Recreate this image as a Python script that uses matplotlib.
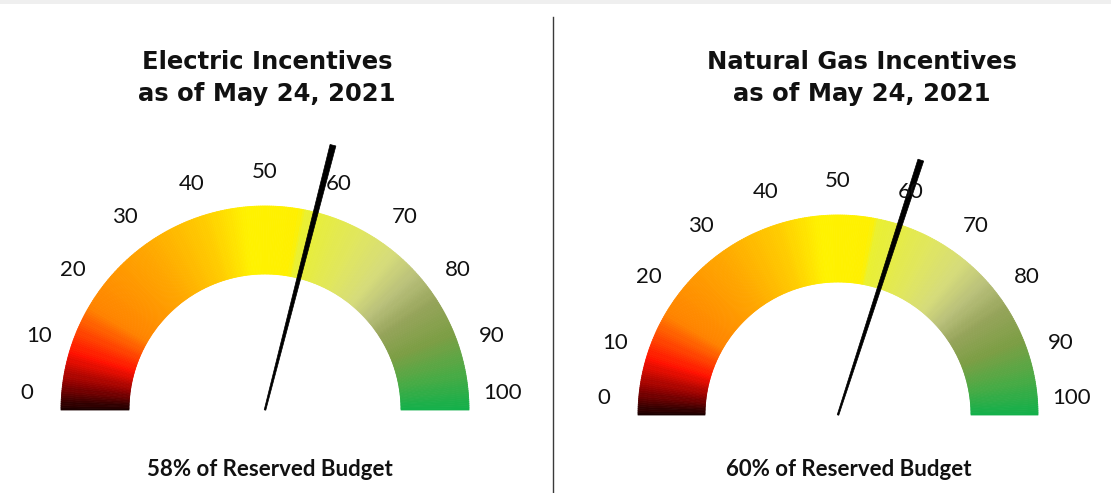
import numpy as np
import matplotlib
matplotlib.use("Agg")
import matplotlib.pyplot as plt
from matplotlib.colors import LinearSegmentedColormap
from matplotlib.collections import PolyCollection
from matplotlib.patches import Polygon, Rectangle

# data
titles = ["Electric Incentives\nas of May 24, 2021",
          "Natural Gas Incentives\nas of May 24, 2021"]
percent = [58, 60]
captions = ["58% of Reserved Budget", "60% of Reserved Budget"]
tick_values = [0, 10, 20, 30, 40, 50, 60, 70, 80, 90, 100]

# gradient stops along the dial (0..1)
stop_pos = [0.0, 0.04, 0.09, 0.17, 0.30, 0.40, 0.47, 0.555, 0.565, 0.66,
            0.72, 0.77, 0.82, 0.88, 0.94, 1.0]
stop_col = ["#1a0000", "#8a0000", "#ff1000", "#ff8400", "#ffa800",
            "#ffcc00", "#fff200", "#fff000", "#eaf030", "#e0e660",
            "#d6dc7a", "#b9c07a", "#96a45a", "#7c9e44", "#4caa44", "#14b04a"]
cmap = LinearSegmentedColormap.from_list("gauge", list(zip(stop_pos, stop_col)))

# layout in pixels: (cx, cy, r_out, r_in, label radius, title x, caption x)
gauges = [(265, 410, 204, 136, 238, 267, 270),
          (838, 415, 200, 133, 234, 862, 849)]

W, H = 1111, 493
fig = plt.figure(figsize=(W / 100, H / 100), dpi=100)
ax = fig.add_axes([0, 0, 1, 1])
ax.set_xlim(0, W)
ax.set_ylim(H, 0)
ax.set_axis_off()

ax.add_patch(Rectangle((0, 0), W, 4, color="#efefef", lw=0))
ax.plot([553, 553], [17, H], color="#3a3a3a", lw=1)


def pt(cx, cy, r, th):
    return cx + r * np.cos(th), cy - r * np.sin(th)


for (cx, cy, ro, ri, rl, tx, capx), title, val, cap in zip(
        gauges, titles, percent, captions):
    n = 300
    edges = np.linspace(np.pi, 0, n + 1)
    polys = []
    for a0, a1 in zip(edges[:-1], edges[1:]):
        polys.append([pt(cx, cy, ro, a0), pt(cx, cy, ro, a1),
                      pt(cx, cy, ri, a1), pt(cx, cy, ri, a0)])
    cols = cmap((np.arange(n) + 0.5) / n)
    ax.add_collection(PolyCollection(polys, facecolors=cols,
                                     edgecolors=cols, lw=0.6))

    for v in tick_values:
        th = np.pi * (1 - v / 100)
        x = cx + rl * np.cos(th)
        y = cy - max(rl * np.sin(th), 17)
        ax.text(x, y, str(v), ha="center", va="center", fontsize=16,
                family="Lato", color="#111111")

    # needle: thin at the hub, wider at the tip
    th = np.pi * (1 - val / 100)
    L = 1.34 * ro
    tipx, tipy = pt(cx, cy, L, th)
    ux, uy = tipx - cx, tipy - cy
    nrm = np.hypot(ux, uy)
    px, py = -uy / nrm, ux / nrm
    needle = [(cx + px * 0.8, cy + py * 0.8), (tipx + px * 3, tipy + py * 3),
              (tipx - px * 3, tipy - py * 3), (cx - px * 0.8, cy - py * 0.8)]
    ax.add_patch(Polygon(needle, closed=True, color="black", lw=0.5))

    ax.text(tx, 78, title, ha="center", va="center", fontsize=17.5,
            fontweight="bold", family="DejaVu Sans", color="#111111",
            linespacing=1.45)
    ax.text(capx, 469, cap, ha="center", va="center", fontsize=16,
            fontweight="bold", family="Lato", color="#111111")

fig.savefig("out.png", dpi=100)
